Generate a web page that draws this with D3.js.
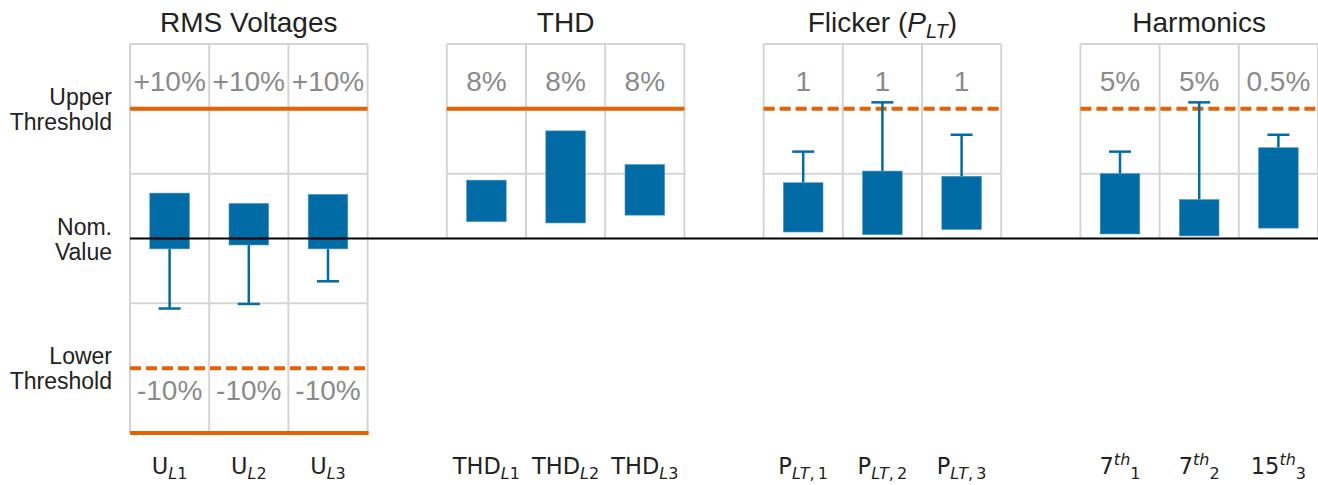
<!DOCTYPE html>
<html>
<head>
<meta charset="utf-8">
<script src="https://cdn.jsdelivr.net/npm/d3@7"></script>
<style>
  html, body { margin: 0; padding: 0; background: #fff; }
  svg { display: block; }
</style>
</head>
<body>
<svg id="chart" width="1318" height="485"></svg>
<script>
// ---- data ----
const groupTitles = ["RMS Voltages", "THD", "Flicker", "Harmonics"];
const groupSlots = [0, 4, 8, 12];            // first slot of each group (3 slots each, 1 gap)
const tickBase = ["U", "U", "U", "THD", "THD", "THD", "P", "P", "P", "7", "7", "15"];
const tickSup  = ["", "", "", "", "", "", "", "", "", "th", "th", "th"];
const tickSub  = ["L1", "L2", "L3", "L1", "L2", "L3", "LT,\u20091", "LT,\u20092", "LT,\u20093", "1", "2", "3"];
const limitLabels = ["+10%", "+10%", "+10%", "8%", "8%", "8%", "1", "1", "1", "5%", "5%", "0.5%"];
const lowerLabels = ["-10%", "-10%", "-10%"];
const barHigh = [0.35, 0.27, 0.34, 0.45, 0.83, 0.57, 0.43, 0.52, 0.48, 0.50, 0.30, 0.70];
const barLow  = [-0.08, -0.05, -0.08, 0.13, 0.12, 0.18, 0.05, 0.03, 0.07, 0.035, 0.02, 0.08];
const whisker = [-0.54, -0.505, -0.33, null, null, null, 0.67, 1.05, 0.80, 0.67, 1.05, 0.80];
const upperStyle = ["solid", "solid", "dashed", "dashed"];
const leftLabels = [["Upper", "Threshold"], ["Nom.", "Value"], ["Lower", "Threshold"]];
const leftLabelValues = [1, 0, -1];

// ---- scales ----
const blue = "#006ba4", orange = "#e66100", gridC = "#d5d5d5";
const svg = d3.select("#chart");
const slots = d3.range(15);
const x = d3.scaleBand().domain(slots).range([130, 1318]).paddingInner(0).paddingOuter(0);
const y = d3.scaleLinear().domain([-1.5, 1.5]).range([433, 44]);
const bw = x.bandwidth();
const slotOf = i => groupSlots[Math.floor(i / 3)] + (i % 3);

// ---- grid ----
const gGrid = svg.append("g");
groupSlots.forEach((s, gi) => {
  const x0 = x(s), x1 = x(s + 2) + bw;
  const yBottom = gi === 0 ? -1.5 : 0;
  const hVals = gi === 0 ? [1.5, 0.5, -0.5, -1.5] : [1.5, 0.5];
  hVals.forEach(v => gGrid.append("line")
    .attr("x1", x0).attr("x2", x1).attr("y1", y(v)).attr("y2", y(v))
    .attr("stroke", gridC).attr("stroke-width", 2));
  [0, 1, 2, 3].forEach(k => {
    const xx = k < 3 ? x(s + k) : x1;
    gGrid.append("line")
      .attr("x1", xx).attr("x2", xx).attr("y1", y(1.5)).attr("y2", y(yBottom))
      .attr("stroke", gridC).attr("stroke-width", 2);
  });
});

// ---- threshold lines ----
const gTh = svg.append("g");
groupSlots.forEach((s, gi) => {
  const x0 = x(s), x1 = x(s + 2) + bw;
  gTh.append("line").attr("x1", x0).attr("x2", x1).attr("y1", y(1)).attr("y2", y(1))
    .attr("stroke", orange).attr("stroke-width", 4)
    .attr("stroke-dasharray", upperStyle[gi] === "dashed" ? "11,5" : null);
  if (gi === 0) {
    gTh.append("line").attr("x1", x0).attr("x2", x1).attr("y1", y(-1)).attr("y2", y(-1))
      .attr("stroke", orange).attr("stroke-width", 4).attr("stroke-dasharray", "11,5");
    gTh.append("line").attr("x1", x0).attr("x2", x1 + 1).attr("y1", y(-1.5)).attr("y2", y(-1.5))
      .attr("stroke", orange).attr("stroke-width", 4);
  }
});

// ---- limit labels ----
svg.append("g").selectAll("text").data(limitLabels).join("text")
  .attr("x", (d, i) => x(slotOf(i)) + bw / 2)
  .attr("y", y(1) - 18)
  .attr("text-anchor", "middle")
  .attr("font-family", "'Liberation Sans', Arial, sans-serif")
  .attr("font-size", 28).attr("fill", "#8a8a8a")
  .text(d => d);
svg.append("g").selectAll("text").data(lowerLabels).join("text")
  .attr("x", (d, i) => x(i) + bw / 2)
  .attr("y", y(-1) + 32)
  .attr("text-anchor", "middle")
  .attr("font-family", "'Liberation Sans', Arial, sans-serif")
  .attr("font-size", 28).attr("fill", "#8a8a8a")
  .text(d => d);

// ---- bars & error bars ----
const gBars = svg.append("g");
barHigh.forEach((h, i) => {
  const cx = x(slotOf(i)) + bw / 2;
  const lo = barLow[i];
  const w = whisker[i];
  if (w !== null) {
    const from = w < 0 ? lo : h;
    gBars.append("line").attr("x1", cx).attr("x2", cx).attr("y1", y(from)).attr("y2", y(w))
      .attr("stroke", blue).attr("stroke-width", 2.5);
    gBars.append("line").attr("x1", cx - 11).attr("x2", cx + 11).attr("y1", y(w)).attr("y2", y(w))
      .attr("stroke", blue).attr("stroke-width", 2.5);
  }
  gBars.append("rect")
    .attr("x", cx - bw / 4).attr("width", bw / 2)
    .attr("y", y(h)).attr("height", y(lo) - y(h))
    .attr("fill", blue).attr("stroke", "#4d94c4").attr("stroke-width", 0.6);
});

// ---- nominal line ----
svg.append("line").attr("x1", 130).attr("x2", 1318).attr("y1", y(0)).attr("y2", y(0))
  .attr("stroke", "#000").attr("stroke-width", 2);

// ---- group titles ----
groupTitles.forEach((t, gi) => {
  const cx = x(groupSlots[gi]) + 1.5 * bw;
  const txt = svg.append("text").attr("x", cx).attr("y", 32)
    .attr("text-anchor", "middle")
    .attr("font-family", "'Liberation Sans', Arial, sans-serif")
    .attr("font-size", 28).attr("fill", "#222");
  if (t === "Flicker") {
    txt.append("tspan").text("Flicker (");
    txt.append("tspan").attr("font-style", "italic").text("P");
    txt.append("tspan").attr("font-style", "italic").attr("font-size", 20).attr("dy", 6).text("LT");
    txt.append("tspan").attr("dy", -6).text(")");
  } else {
    txt.text(t);
  }
});

// ---- left labels ----
leftLabels.forEach((lines, k) => {
  const t = svg.append("text")
    .attr("x", 112).attr("y", y(leftLabelValues[k]) - 4)
    .attr("text-anchor", "end")
    .attr("font-family", "'Liberation Sans', Arial, sans-serif")
    .attr("font-size", 23).attr("fill", "#222");
  lines.forEach((ln, j) => t.append("tspan").attr("x", 112).attr("dy", j === 0 ? 0 : 25).text(ln));
});

// ---- tick labels ----
const isItalic = ch => /[A-Za-z]/.test(ch);
tickBase.forEach((b, i) => {
  const cx = x(slotOf(i)) + bw / 2;
  const t = svg.append("text").attr("x", cx).attr("y", 474)
    .attr("text-anchor", "middle")
    .attr("font-family", "'DejaVu Sans', sans-serif")
    .attr("font-size", 22.5).attr("fill", "#222");
  t.append("tspan").text(b);
  let shift = 0;
  if (tickSup[i]) {
    t.append("tspan").attr("font-size", 16).attr("font-style", "italic").attr("dy", -9).text(tickSup[i]);
    shift = -9;
  }
  const sub = tickSub[i];
  const parts = sub.match(/[A-Za-z]+|[^A-Za-z]+/g);
  parts.forEach((p, j) => {
    const ts = t.append("tspan").attr("font-size", 16)
      .attr("font-style", isItalic(p[0]) ? "italic" : "normal").text(p);
    if (j === 0) ts.attr("dy", 5 - shift);
  });
});
</script>
</body>
</html>
